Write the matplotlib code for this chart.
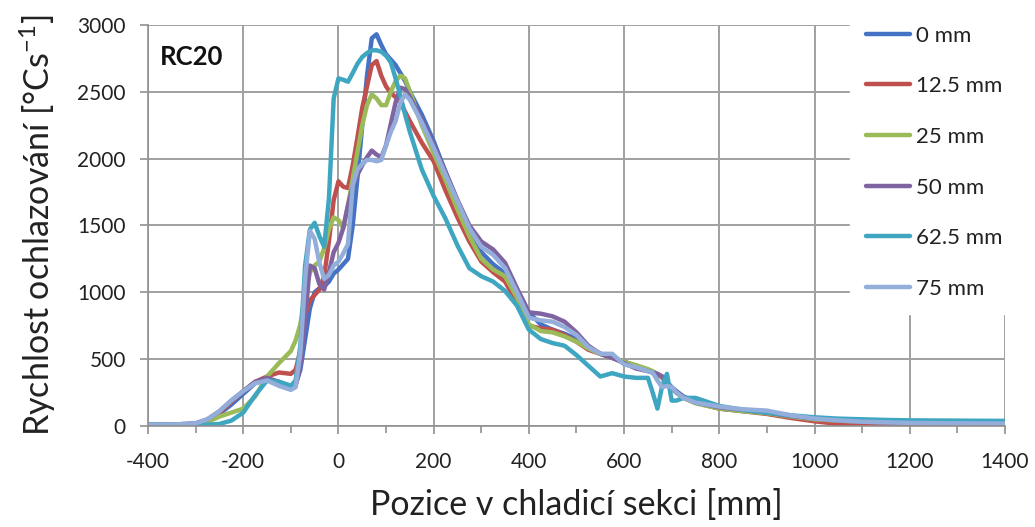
import matplotlib
matplotlib.use('Agg')
import matplotlib.pyplot as plt
from matplotlib.ticker import MultipleLocator

plt.rcParams['font.family'] = ['Lato', 'DejaVu Sans']
plt.rcParams['mathtext.fontset'] = 'custom'
plt.rcParams['mathtext.rm'] = 'Lato'
plt.rcParams['axes.unicode_minus'] = False

# position along the cooling section [mm]
x = [-400, -350, -300, -275, -250, -225, -200, -175, -150, -125,
     -100, -90, -80, -70, -60, -50, -40, -30, -20, -10,
     0, 10, 20, 30, 40, 50, 60, 70, 80, 90,
     100, 110, 120, 130, 140, 150, 175, 200, 225, 250,
     275, 300, 325, 350, 375, 400, 425, 450, 475, 500,
     525, 550, 575, 600, 625, 650, 660, 670, 680, 690,
     700, 710, 725, 750, 800, 850, 900, 950, 1000, 1050,
     1100, 1150, 1200, 1300, 1400]

# cooling rate [°C/s]
mm0 = [10, 10, 15, 40, 90, 160, 240, 320, 350, 330,
       300, 310, 420, 650, 880, 1000, 1030, 1045, 1080, 1140,
       1170, 1210, 1250, 1500, 1860, 2250, 2620, 2900, 2930, 2850,
       2780, 2740, 2700, 2640, 2580, 2500, 2330, 2130, 1900, 1680,
       1480, 1300, 1210, 1140, 1020, 850, 760, 720, 690, 650,
       580, 540, 510, 480, 450, 420, 400, 385, 370, 330,
       290, 260, 220, 180, 130, 115, 100, 75, 55, 45,
       35, 28, 22, 20, 18]
mm12 = [10, 10, 15, 40, 100, 180, 260, 330, 370, 400,
        390, 420, 560, 820, 940, 980, 1020, 1120, 1380, 1690,
        1830, 1790, 1780, 1950, 2160, 2380, 2540, 2700, 2730, 2620,
        2540, 2490, 2460, 2420, 2350, 2280, 2120, 1980, 1760, 1560,
        1380, 1230, 1150, 1080, 920, 750, 730, 720, 680, 630,
        570, 540, 510, 480, 450, 420, 400, 385, 360, 320,
        280, 250, 210, 175, 130, 110, 90, 60, 35, 15,
        5, 5, 8, 10, 12]
mm25 = [10, 10, 15, 30, 70, 100, 130, 220, 370, 470,
        560, 640, 760, 1000, 1150, 1200, 1230, 1330, 1470, 1560,
        1540, 1480, 1650, 1850, 2050, 2250, 2400, 2480, 2450, 2400,
        2400, 2500, 2580, 2620, 2600, 2500, 2250, 2040, 1840, 1620,
        1420, 1250, 1170, 1120, 960, 760, 710, 700, 670, 630,
        580, 540, 510, 480, 455, 425, 410, 390, 365, 320,
        280, 250, 210, 170, 130, 110, 95, 70, 50, 40,
        32, 28, 25, 22, 20]
mm50 = [10, 10, 20, 50, 110, 190, 260, 330, 360, 330,
        290, 300, 450, 800, 1200, 1180, 1060, 1020, 1150, 1300,
        1370, 1480, 1650, 1790, 1880, 1950, 2010, 2060, 2030, 2010,
        2100, 2260, 2420, 2530, 2520, 2460, 2290, 2100, 1900, 1690,
        1500, 1380, 1320, 1220, 1030, 850, 840, 820, 780, 700,
        600, 540, 510, 470, 430, 410, 400, 390, 370, 320,
        280, 250, 215, 175, 140, 120, 100, 75, 55, 42,
        32, 27, 23, 20, 18]
mm62 = [10, 10, 10, 10, 15, 40, 100, 230, 340, 330,
        300, 340, 600, 1200, 1470, 1520, 1420, 1340, 1700, 2450,
        2600, 2590, 2575, 2640, 2710, 2760, 2790, 2810, 2810, 2800,
        2770, 2720, 2600, 2470, 2330, 2200, 1920, 1720, 1550, 1350,
        1180, 1120, 1080, 1010, 900, 720, 650, 620, 600, 530,
        450, 370, 395, 370, 360, 360, 250, 130, 300, 390,
        190, 190, 210, 210, 150, 120, 100, 80, 65, 55,
        50, 45, 42, 40, 38]
mm75 = [10, 10, 20, 50, 110, 190, 260, 320, 340, 300,
        270, 290, 550, 1100, 1460, 1400, 1220, 1100, 1130, 1200,
        1230, 1290, 1360, 1800, 1920, 1960, 1990, 1990, 1980, 1990,
        2100, 2200, 2280, 2420, 2480, 2440, 2270, 2080, 1880, 1680,
        1480, 1340, 1280, 1180, 1000, 810, 790, 780, 740, 680,
        590, 540, 540, 460, 440, 410, 400, 340, 290, 300,
        290, 250, 210, 175, 145, 125, 115, 80, 55, 42,
        32, 27, 23, 20, 18]

series = [mm0, mm12, mm25, mm50, mm62, mm75]
labels = ['0 mm', '12.5 mm', '25 mm', '50 mm', '62.5 mm', '75 mm']
colors = ['#4472C4', '#C0504D', '#9BBB59', '#8064A2', '#3FA6C2', '#93AEDB']

fig = plt.figure(figsize=(10.35, 5.27), dpi=100)
ax = fig.add_axes([0.143, 0.1917, 0.828, 0.761])

for y, lab, c in zip(series, labels, colors):
    ax.plot(x, y, color=c, lw=3.2, label=lab, solid_joinstyle='round',
            solid_capstyle='round')

ax.set_xlim(-400, 1400)
ax.set_ylim(0, 3000)
ax.xaxis.set_major_locator(MultipleLocator(200))
ax.xaxis.set_minor_locator(MultipleLocator(100))
ax.yaxis.set_major_locator(MultipleLocator(500))
ax.grid(True, which='major', color='#a0a0a0', lw=1.4)
ax.set_axisbelow(True)
for s in ['top', 'right']:
    ax.spines[s].set_visible(False)
for s in ['left', 'bottom']:
    ax.spines[s].set_color('#909090')
    ax.spines[s].set_linewidth(1.2)
ax.tick_params(which='major', length=6, color='#909090', width=1.2,
               labelsize=15, labelcolor='#222222')
ax.tick_params(which='minor', length=5, color='#909090', width=1.2)
ax.tick_params(axis='x', which='major', pad=13)
ax.tick_params(axis='y', which='major', pad=10)

ax.set_xlabel('Pozice v chladicí sekci [mm]', fontsize=24.5, color='#222222',
              labelpad=12)
ax.set_ylabel(r'Rychlost ochlazování [°Cs$^{\mathregular{-1}}$]', fontsize=24.5,
              color='#222222', labelpad=14)

ax.text(0.014, 0.92, 'RC20', transform=ax.transAxes, fontsize=18.5,
        fontweight='bold', va='center', ha='left', color='#111111')

leg = fig.legend(loc='upper left', bbox_to_anchor=(850 / 1035, 1 - 10 / 527),
                 fontsize=16, frameon=True, fancybox=False, borderaxespad=0,
                 borderpad=0.7, handlelength=2.0, handletextpad=0.25,
                 labelspacing=1.38)
leg.get_frame().set_facecolor('white')
leg.get_frame().set_edgecolor('white')
leg.get_frame().set_alpha(1)
for t in leg.get_texts():
    t.set_color('#222222')

fig.savefig('out.png', dpi=100)
